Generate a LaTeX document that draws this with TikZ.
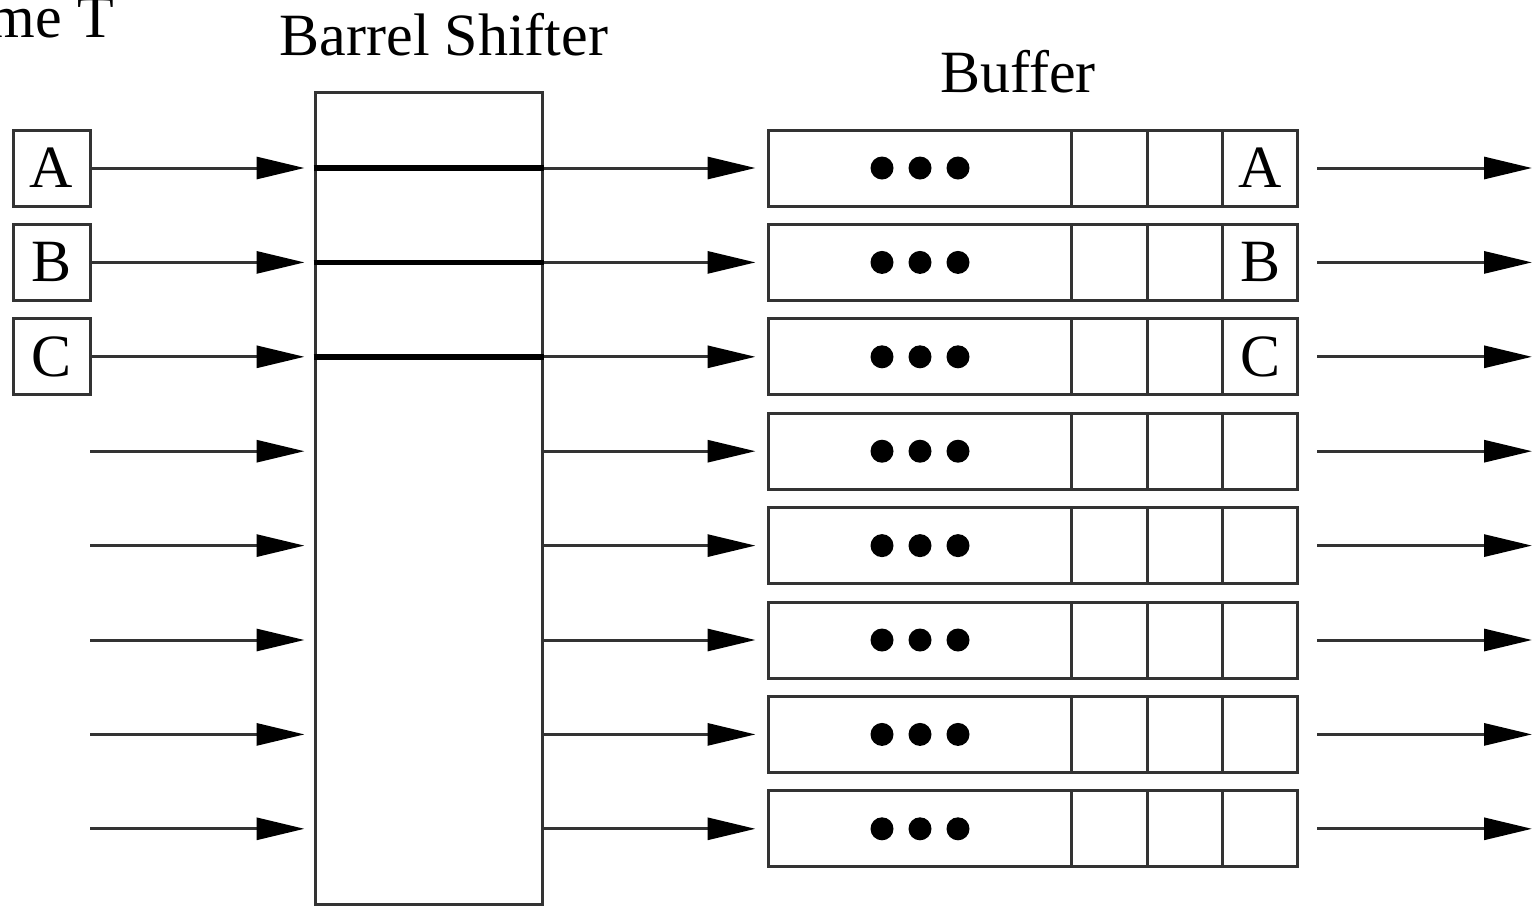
\documentclass[tikz,border=0pt]{standalone}
\usepackage{fontspec}
\setmainfont{Liberation Serif}
\usetikzlibrary{arrows.meta}
\begin{document}
\begin{tikzpicture}[x=1pt,y=-1pt,
  edge/.style={draw=black!80, line width=3pt},
  box/.style={edge, rectangle, inner sep=0pt, font=\fontsize{60}{72}\selectfont},
  flow/.style={edge, -{Triangle[length=48pt,width=22pt,color=black]}},
  bus/.style={draw=black, line width=5.5pt},
  title/.style={inner sep=0pt, anchor=base, font=\fontsize{60}{72}\selectfont},
  dot/.style={fill=black, draw=none, circle, minimum size=23pt, inner sep=0pt}]
  \useasboundingbox (0,0) rectangle (1535,906);
  \clip (0,0) rectangle (1535,906);

  % headings
  \node[title, anchor=base east] (time) at (114,37) {Time T};
  \node[title] (bstitle) at (444,55) {Barrel Shifter};
  \node[title] (buftitle) at (1018,92) {Buffer};

  % barrel shifter body
  \node[box, minimum width=227pt, minimum height=812pt] (bs) at (428.5,498) {};

  % buffer rows, input sources and output arrows
  \foreach \k in {1,...,8} {
    \pgfmathsetmacro{\yy}{168+94.4*(\k-1)}
    \node[box, minimum width=529pt, minimum height=76pt] (buf\k) at (1032.5,\yy) {};
    \draw[edge] (1071,\yy-38) -- (1071,\yy+38);
    \draw[edge] (1147,\yy-38) -- (1147,\yy+38);
    \draw[edge] (1222,\yy-38) -- (1222,\yy+38);
    \node[dot] (d\k a) at (882,\yy) {};
    \node[dot] (d\k b) at (920,\yy) {};
    \node[dot] (d\k c) at (958,\yy) {};
    \coordinate (src\k) at (90,\yy);
    \coordinate (bsin\k) at (bs.west |- buf\k.west);
    \coordinate (bsout\k) at (bs.east |- buf\k.west);
    \coordinate (out\k) at (1317,\yy);
    \coordinate (sink\k) at (1532,\yy);
    \draw[flow, shorten >=9pt] (src\k) -- (bsin\k);
    \draw[flow, shorten >=11pt] (bsout\k) -- (buf\k.west);
    \draw[flow] (out\k) -- (sink\k);
  }

  % words A, B, C entering the shifter and landing in the buffer
  \foreach \k/\w in {1/A,2/B,3/C} {
    \node[box, minimum width=77pt, minimum height=76pt] (in\k) at (51.5,168+94.4*\k-94.4) {\w};
    \node[inner sep=0pt, font=\fontsize{60}{72}\selectfont] (slot\k) at (1260,168+94.4*\k-94.4) {\w};
    \draw[bus] (bsin\k) -- (bsout\k);
  }
\end{tikzpicture}
\end{document}
